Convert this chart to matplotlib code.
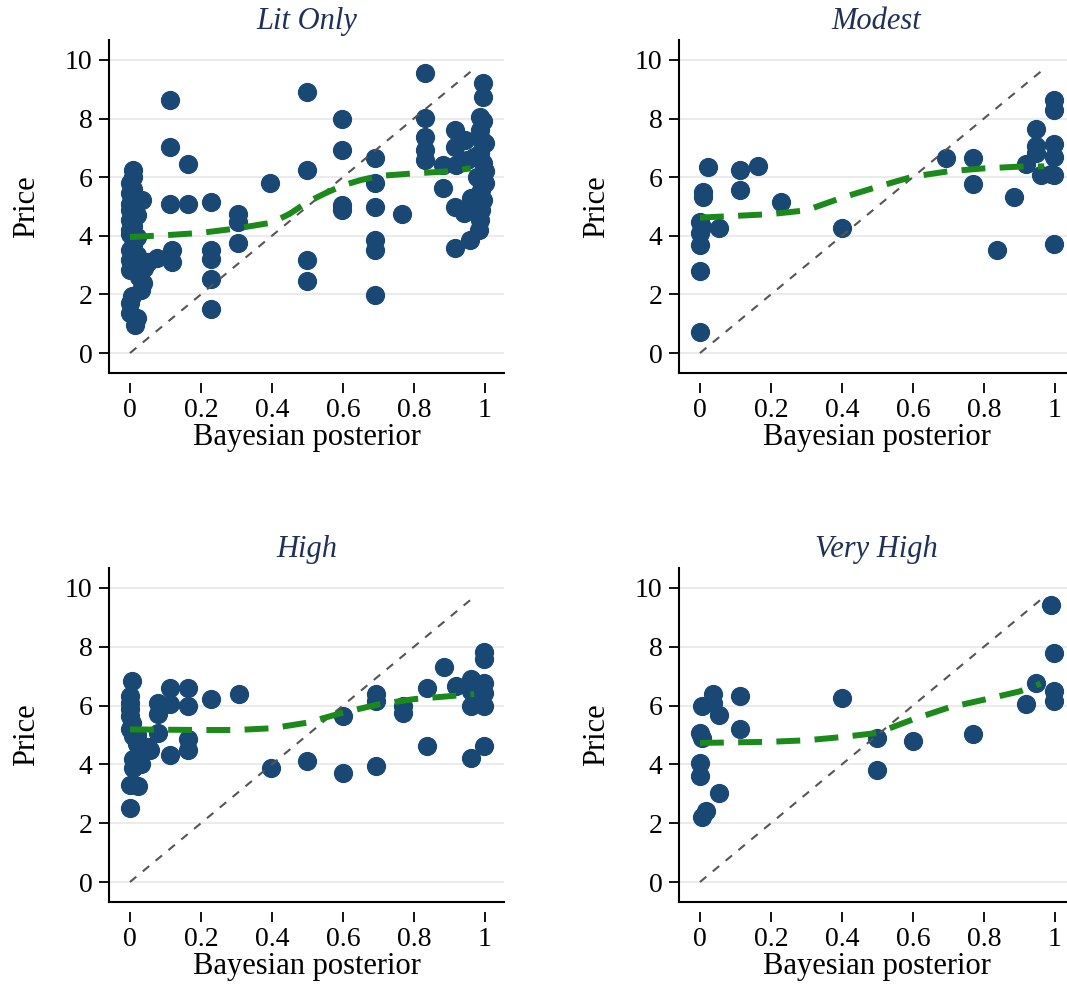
import numpy as np
import matplotlib
matplotlib.use("Agg")
import matplotlib.pyplot as plt

plt.rcParams["font.family"] = ["Liberation Serif", "DejaVu Serif"]

# ---- data ----
titles = ["Lit Only", "Modest", "High", "Very High"]

lit_x = [0.008, 0.0, 0.0, 0.034, 0.0, 0.0, 0.0, 0.02, 0.0, 0.0, 0.0, 0.037, 0.075, 0.118,
         0.118, 0.037, 0.03, 0.0, 0.0, 0.014, 0.01, 0.01, 0.0, 0.02, 0.01, 0.0, 0.01, 0.02,
         0.01, 0.025, 0.005, 0.02, 0.04, 0.05,
         0.113, 0.113, 0.164, 0.113, 0.164, 0.228, 0.228, 0.228, 0.228, 0.228, 0.305, 0.305,
         0.305, 0.394, 0.498, 0.498, 0.498, 0.498, 0.598, 0.598, 0.598, 0.598, 0.69, 0.69,
         0.69, 0.69, 0.69, 0.69, 0.768,
         0.831, 0.831, 0.831, 0.831, 0.831, 0.915, 0.915, 0.944, 0.883, 0.92, 0.95, 0.986,
         0.986, 1.0, 0.986, 0.995, 0.977, 0.99, 0.995, 0.99, 0.883, 0.915, 0.94, 0.986,
         0.984, 0.958, 0.915, 0.995, 0.995, 0.996, 0.99, 1.0, 0.97, 0.96, 1.0, 0.97]
lit_y = [6.25, 5.8, 5.46, 5.22, 4.88, 4.54, 4.2, 3.96, 3.52, 3.17, 2.83, 2.94, 3.24, 3.52,
         3.11, 2.38, 2.15, 1.7, 1.36, 0.96, 6.0, 5.6, 5.1, 4.7, 4.35, 4.05, 3.7, 3.35,
         3.0, 2.6, 1.95, 1.2, 2.9, 3.1,
         8.63, 7.04, 6.45, 5.1, 5.1, 5.16, 3.51, 3.22, 2.54, 1.51, 4.76, 4.48,
         3.74, 5.81, 8.92, 6.24, 3.17, 2.46, 8.0, 6.92, 5.05, 4.87, 6.64, 5.79,
         4.99, 3.85, 3.51, 1.97, 4.74,
         9.57, 8.02, 7.38, 6.93, 6.59, 7.61, 7.04, 7.27, 6.42, 6.42, 6.59, 8.07,
         7.61, 7.16, 6.82, 6.48, 6.02, 5.56, 5.22, 4.88, 5.63, 4.99, 4.78, 4.54,
         4.2, 3.86, 3.58, 9.2, 8.75, 7.9, 7.3, 6.2, 5.0, 5.3, 5.8, 6.7]
lit_fit_x = [0, 0.1, 0.2, 0.3, 0.4, 0.45, 0.5, 0.55, 0.6, 0.65, 0.7, 0.8, 0.9, 0.96]
lit_fit_y = [3.96, 4.02, 4.1, 4.25, 4.45, 4.75, 5.15, 5.45, 5.72, 5.9, 6.04, 6.13, 6.2, 6.3]

mod_x = [0.024, 0.113, 0.165, 0.113, 0.01, 0.01, 0.229, 0.0, 0.0, 0.055, 0.0, 0.0, 0.0,
         0.4, 0.692, 0.77, 0.77, 0.885, 0.836, 0.946, 0.946, 0.946, 0.918, 0.96, 0.998,
         0.998, 0.998, 0.998, 0.998, 0.998, 0.005, 0.99]
mod_y = [6.36, 6.26, 6.38, 5.56, 5.5, 5.33, 5.16, 4.48, 4.08, 4.27, 3.68, 2.79, 0.72,
         4.27, 6.64, 6.64, 5.76, 5.31, 3.53, 7.63, 7.06, 6.81, 6.45, 6.07, 8.63,
         8.29, 7.13, 6.7, 6.07, 3.71, 4.3, 6.1]
mod_fit_x = [0, 0.1, 0.2, 0.3, 0.4, 0.5, 0.6, 0.7, 0.8, 0.9, 0.97]
mod_fit_y = [4.62, 4.68, 4.74, 4.87, 5.3, 5.67, 6.02, 6.2, 6.3, 6.36, 6.37]

high_x = [0.005, 0.0, 0.0, 0.0, 0.0, 0.005, 0.0, 0.01, 0.02, 0.028, 0.056, 0.01, 0.0,
          0.024, 0.0, 0.01, 0.03, 0.08, 0.08, 0.08, 0.113, 0.113, 0.113, 0.165, 0.165,
          0.165, 0.165, 0.229, 0.308, 0.398, 0.499, 0.6, 0.6, 0.692, 0.692, 0.692, 0.77,
          0.77, 0.836, 0.836, 0.885, 0.918, 0.96, 0.96, 0.96, 0.998, 0.998, 0.998, 0.998,
          0.998, 0.998, 0.96, 0.98, 0.05, 0.02]
high_y = [6.84, 6.33, 6.1, 5.87, 5.64, 5.42, 5.19, 4.96, 4.7, 4.45, 4.5, 3.88, 3.31,
          3.25, 2.51, 4.2, 4.0, 6.1, 5.7, 5.07, 6.61, 6.04, 4.33, 6.61, 5.99,
          4.85, 4.5, 6.24, 6.39, 3.88, 4.1, 5.64, 3.71, 6.39, 6.16, 3.93, 5.99,
          5.76, 6.61, 4.62, 7.3, 6.67, 6.9, 5.99, 4.22, 7.81, 7.58, 6.78, 6.44,
          5.99, 4.62, 6.5, 6.2, 4.6, 5.0]
high_fit_x = [0, 0.1, 0.2, 0.3, 0.4, 0.5, 0.6, 0.7, 0.8, 0.9, 0.97]
high_fit_y = [5.19, 5.18, 5.17, 5.17, 5.23, 5.42, 5.76, 6.04, 6.22, 6.32, 6.39]

vh_x = [0.036, 0.036, 0.005, 0.055, 0.113, 0.113, 0.0, 0.005, 0.0, 0.0, 0.055, 0.017,
        0.005, 0.4, 0.499, 0.499, 0.6, 0.77, 0.918, 0.946, 0.989, 0.998, 0.998, 0.998]
vh_y = [6.39, 6.1, 5.99, 5.67, 6.33, 5.21, 5.07, 4.9, 4.05, 3.61, 3.04, 2.43,
        2.2, 6.25, 4.9, 3.82, 4.79, 5.04, 6.04, 6.78, 9.41, 7.79, 6.5, 6.16]
vh_fit_x = [0, 0.1, 0.2, 0.3, 0.4, 0.5, 0.55, 0.6, 0.7, 0.8, 0.9, 0.96]
vh_fit_y = [4.73, 4.75, 4.77, 4.82, 4.93, 5.07, 5.3, 5.53, 5.93, 6.2, 6.48, 6.75]

diag_x = [0, 0.975]
diag_y = [0, 9.75]

x_ticks = [0, 0.2, 0.4, 0.6, 0.8, 1]
x_ticklabels = ["0", "0.2", "0.4", "0.6", "0.8", "1"]
y_ticks = [0, 2, 4, 6, 8, 10]

panels = [
    (lit_x, lit_y, lit_fit_x, lit_fit_y),
    (mod_x, mod_y, mod_fit_x, mod_fit_y),
    (high_x, high_y, high_fit_x, high_fit_y),
    (vh_x, vh_y, vh_fit_x, vh_fit_y),
]

# axes rectangles in figure fraction (left, bottom, width, height)
W, H = 1067, 985
rects = [
    (109 / W, 1 - 373 / H, 395 / W, 333 / H),
    (679 / W, 1 - 373 / H, 395 / W, 333 / H),
    (109 / W, 1 - 902 / H, 395 / W, 334 / H),
    (679 / W, 1 - 902 / H, 395 / W, 334 / H),
]

dot_col = "#1a4874"
fit_col = "#1b8a1b"
title_col = "#1f3157"

fig = plt.figure(figsize=(W / 100, H / 100), dpi=100)

for i, (px, py, fx, fy) in enumerate(panels):
    ax = fig.add_axes(rects[i])
    ax.set_xlim(-0.059, 1.054)
    ax.set_ylim(-0.68, 10.68)

    # horizontal grid
    ax.set_yticks(y_ticks)
    ax.yaxis.grid(True, color="#ebebeb", linewidth=1.5)
    ax.set_axisbelow(True)

    ax.scatter(px, py, s=165, color=dot_col, edgecolors=dot_col, zorder=3)
    ax.plot(diag_x, diag_y, color="#555555", linewidth=1.5, dashes=(4, 4), zorder=4)
    ax.plot(fx, fy, color=fit_col, linewidth=4.3, dashes=(4, 2.4), zorder=5)

    for side in ["top", "right"]:
        ax.spines[side].set_visible(False)
    ax.spines["left"].set_linewidth(1.5)
    ax.spines["bottom"].set_linewidth(1.5)

    ax.tick_params(axis="y", direction="out", length=7, width=1.3, pad=5, labelsize=20)
    ax.set_ylabel("Price", fontsize=22, labelpad=17)

    # x ticks sit a little below the axis line
    ax.tick_params(axis="x", bottom=False, labelbottom=False)
    sec = ax.secondary_xaxis(-0.03)
    sec.spines["bottom"].set_visible(False)
    sec.set_xticks(x_ticks)
    sec.set_xticklabels(x_ticklabels)
    sec.tick_params(direction="out", length=7, width=1.3, pad=4, labelsize=20)
    sec.set_xlabel("Bayesian posterior", fontsize=22, labelpad=0)

    ax.set_title(titles[i], fontsize=22, style="italic", color=title_col, pad=8)

fig.savefig("out.png", dpi=100)
